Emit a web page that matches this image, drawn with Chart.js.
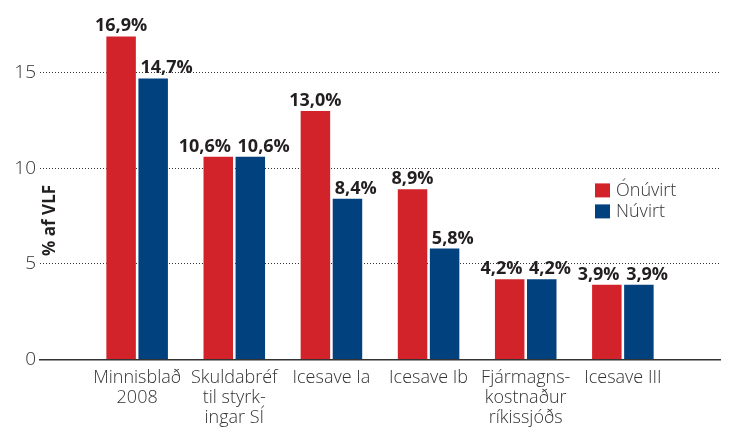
<!DOCTYPE html>
<html>
<head>
<meta charset="utf-8">
<script src="https://cdn.jsdelivr.net/npm/chart.js@4"></script>
<style>
  html, body { margin: 0; padding: 0; background: #fff; }
  #wrap { width: 734px; height: 428px; }
</style>
</head>
<body>
<div id="wrap"><canvas id="barChart" width="734" height="428"></canvas></div>
<script>
// Data (blank slots at each end leave room like the original)
var categories = [
    '',
    ['Minnisblað', '2008'],
    ['Skuldabréf', 'til styrk-', 'ingar SÍ'],
    'Icesave Ia',
    'Icesave Ib',
    ['Fjármagns-', 'kostnaður', 'ríkissjóðs'],
    'Icesave III',
    ''
];
var onuvirt = [null, 16.9, 10.6, 13.0, 8.9, 4.2, 3.9, null];
var nuvirt = [null, 14.7, 10.6, 8.4, 5.8, 4.2, 3.9, null];
var seriesNames = ['Ónúvirt', 'Núvirt'];
var yTicks = [0, 5, 10, 15];

var RED = '#d2232a';
var BLUE = '#00417e';
var TEXT = '#333';
var FONT = '"Open Sans", "Noto Sans", sans-serif';

// value labels above the bars, pushed apart when the pair is close in height
var valueLabels = {
    id: 'valueLabels',
    afterDatasetsDraw: function (chart) {
        var ctx = chart.ctx;
        ctx.save();
        ctx.font = 'bold 18px ' + FONT;
        ctx.fillStyle = '#231f20';
        ctx.textBaseline = 'alphabetic';
        var red = chart.getDatasetMeta(0).data;
        var blue = chart.getDatasetMeta(1).data;
        for (var i = 0; i < onuvirt.length; i++) {
            if (onuvirt[i] == null) continue;
            var r = red[i], b = blue[i];
            var rText = onuvirt[i].toFixed(1).replace('.', ',') + '%';
            var bText = nuvirt[i].toFixed(1).replace('.', ',') + '%';
            if (onuvirt[i] - nuvirt[i] > 1) {
                ctx.textAlign = 'center';
                ctx.fillText(rText, r.x, r.y - 5);
            } else {
                ctx.textAlign = 'right';
                ctx.fillText(rText, r.x + r.width / 2 - 2, r.y - 5);
            }
            ctx.textAlign = 'left';
            ctx.fillText(bText, b.x - b.width / 2 + 2, b.y - 5);
        }
        ctx.restore();
    }
};

// axis title inside the plot and the small legend on the right
var extras = {
    id: 'extras',
    afterDraw: function (chart) {
        var ctx = chart.ctx;
        var a = chart.chartArea;
        ctx.save();
        ctx.translate(a.left + 10, a.top + 205);
        ctx.rotate(-Math.PI / 2);
        ctx.font = 'bold 17px ' + FONT;
        ctx.fillStyle = '#231f20';
        ctx.textAlign = 'center';
        ctx.textBaseline = 'middle';
        ctx.fillText('% af VLF', 0, 0);
        ctx.restore();

        ctx.save();
        ctx.font = '300 18px ' + FONT;
        ctx.textBaseline = 'middle';
        ctx.textAlign = 'left';
        var lx = a.right - 125, ly = a.top + 168;
        chart.data.datasets.forEach(function (ds, k) {
            ctx.fillStyle = ds.backgroundColor;
            ctx.fillRect(lx, ly + k * 21, 15, 14);
            ctx.fillStyle = TEXT;
            ctx.fillText(ds.label, lx + 21, ly + k * 21 + 7);
        });
        ctx.restore();
    }
};

var ctx = document.getElementById('barChart').getContext('2d');
var chart = new Chart(ctx, {
    type: 'bar',
    data: {
        labels: categories,
        datasets: [{
            label: seriesNames[0],
            data: onuvirt,
            backgroundColor: RED
        }, {
            label: seriesNames[1],
            data: nuvirt,
            backgroundColor: BLUE
        }]
    },
    options: {
        responsive: false,
        animation: false,
        categoryPercentage: 0.66,
        barPercentage: 0.92,
        layout: { padding: { left: 0, right: 14, top: 0, bottom: 0 } },
        plugins: {
            legend: { display: false },
            tooltip: { enabled: false }
        },
        scales: {
            x: {
                offset: false,
                grid: { display: false },
                border: { display: true, color: '#333', width: 1.5 },
                ticks: {
                    autoSkip: false,
                    maxRotation: 0,
                    padding: 0,
                    color: TEXT,
                    font: { family: FONT, size: 18, weight: '300', lineHeight: 1.12 }
                },
                afterFit: function (scale) { scale.height = 68.6; }
            },
            y: {
                min: 0,
                max: 18,
                afterBuildTicks: function (scale) {
                    scale.ticks = yTicks.map(function (v) { return { value: v }; });
                },
                border: { display: false, dash: [1, 2] },
                grid: {
                    drawTicks: false,
                    color: function (c) { return c.tick && c.tick.value === 0 ? 'rgba(0,0,0,0)' : '#333'; },
                    lineWidth: 1
                },
                ticks: {
                    padding: 4,
                    color: TEXT,
                    font: { family: FONT, size: 19, weight: '300' }
                },
                afterFit: function (scale) { scale.width = 40; }
            }
        }
    },
    plugins: [valueLabels, extras]
});
</script>
</body>
</html>
